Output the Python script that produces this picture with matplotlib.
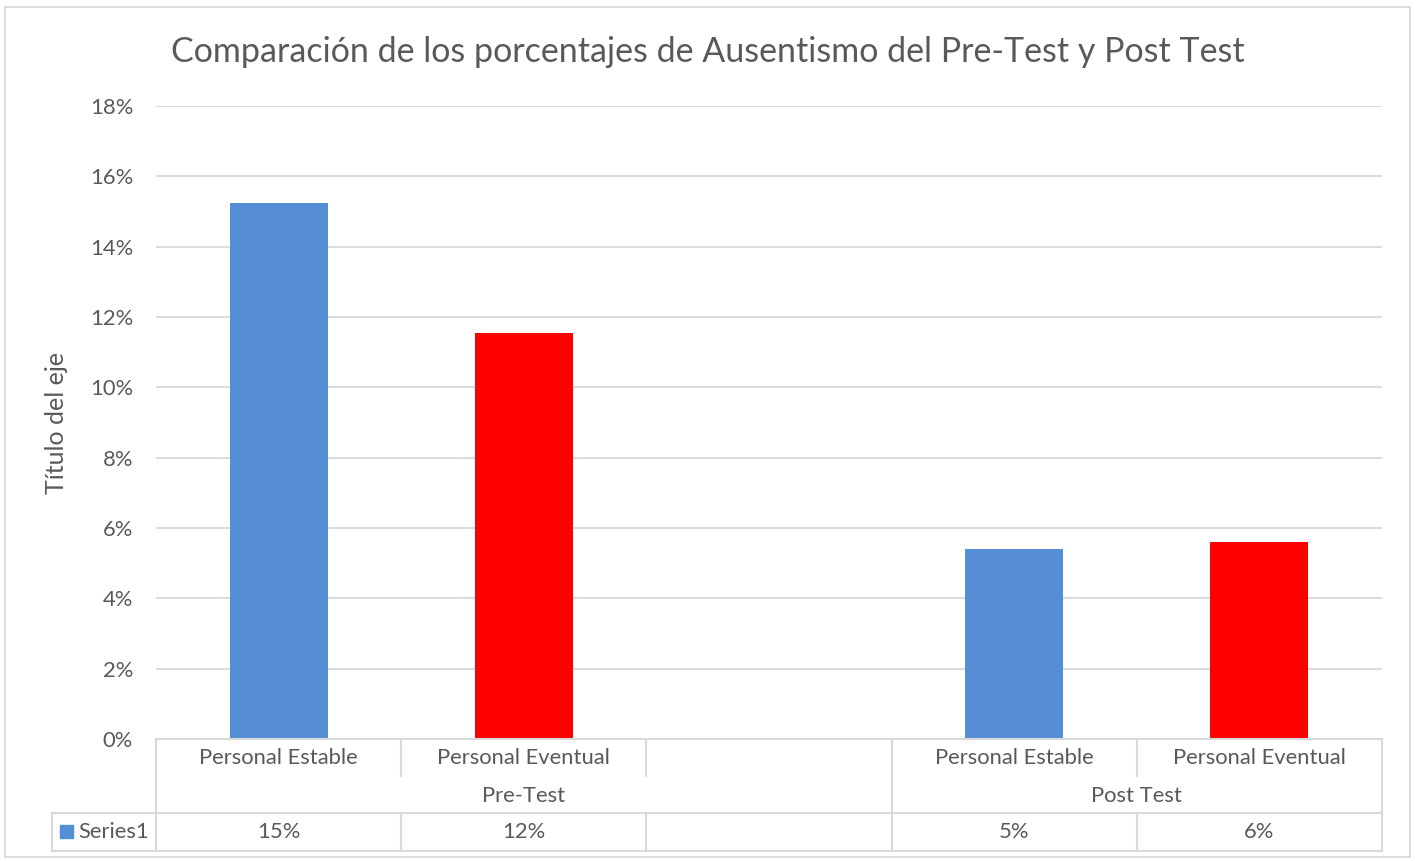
"""Recreate the Pre-Test / Post Test absenteeism comparison chart."""

import matplotlib

matplotlib.use("Agg")
import matplotlib.pyplot as plt
import numpy as np
from matplotlib.ticker import PercentFormatter

categories = ["Personal Estable", "Personal Eventual", "", "Personal Estable", "Personal Eventual"]
groups = ["Pre-Test", "Post Test"]
group_spans = [(0, 2), (3, 4)]
values = [0.1525, 0.1155, np.nan, 0.054, 0.056]
bar_colors = ["#558ED5", "#FF0000", "#558ED5", "#558ED5", "#FF0000"]
series_name = "Series1"
y_ticks = [0, 0.02, 0.04, 0.06, 0.08, 0.10, 0.12, 0.14, 0.16, 0.18]

TEXT = "#595959"
GRID = "#D9D9D9"
FONT = "Lato"
FS = 15.8

W, H = 1417, 861
fig = plt.figure(figsize=(W / 100, H / 100), dpi=100)
plt.rcParams["font.family"] = [FONT, "DejaVu Sans"]

# plot area in pixels
left, right, top, bottom = 156, 1382, 106, 739
ax = fig.add_axes([left / W, 1 - bottom / H, (right - left) / W, (bottom - top) / H])

x = np.arange(len(categories))
ax.bar(x, np.nan_to_num(values), width=0.4, color=bar_colors)
ax.set_xlim(-0.5, len(categories) - 0.5)
ax.set_ylim(0, 0.18)
ax.set_yticks(y_ticks)
ax.yaxis.set_major_formatter(PercentFormatter(1.0, decimals=0))
ax.tick_params(axis="y", length=0, pad=16.5, labelsize=FS, labelcolor=TEXT)
ax.tick_params(axis="x", length=0, labelbottom=False)
ax.grid(axis="y", color=GRID, linewidth=1.3)
ax.set_axisbelow(True)
for s in ax.spines.values():
    s.set_visible(False)

fig.text(57 / W, 1 - 423 / H, "Título del eje", rotation=90, ha="center", va="center",
         fontsize=18, color=TEXT)

fig.text(708 / W, 1 - 52 / H, "Comparación de los porcentajes de Ausentismo del Pre-Test y Post Test",
         ha="center", va="center", fontsize=24.5, color=TEXT)

# data table drawn below the plot area
ph = bottom - top


def ay(py):
    # pixel row -> axes y coordinate
    return (bottom - py) / ph


tr = ax.get_xaxis_transform()
row1, row2, row3, row4 = 739, 776, 813, 851
legend_left_px = 52
xleft = -0.5 - (left - legend_left_px) / ((right - left) / len(categories))
line_kw = dict(color=GRID, linewidth=1.5, transform=tr, clip_on=False)

ax.plot([-0.5, len(categories) - 0.5], [ay(row1)] * 2, **line_kw)
ax.plot([xleft, len(categories) - 0.5], [ay(row3)] * 2, **line_kw)
ax.plot([xleft, len(categories) - 0.5], [ay(row4)] * 2, **line_kw)
ax.plot([xleft, xleft], [ay(row3), ay(row4)], **line_kw)

edges = np.arange(len(categories) + 1) - 0.5
group_edges = {-0.5} | {e + 0.5 for _, e in group_spans}
for e in edges:
    if e in group_edges:
        ax.plot([e, e], [ay(row1), ay(row4)], **line_kw)
    else:
        ax.plot([e, e], [ay(row1 + 2), ay(row2)], **line_kw)
        ax.plot([e, e], [ay(row3), ay(row4)], **line_kw)

cell_kw = dict(transform=tr, ha="center", va="center", fontsize=FS, color=TEXT, clip_on=False)
for i, name in enumerate(categories):
    ax.text(i, ay((row1 + row2) / 2 + 1), name, **cell_kw)
    if not np.isnan(values[i]):
        ax.text(i, ay((row3 + row4) / 2), f"{values[i]:.0%}", **cell_kw)
for g, (a, b) in zip(groups, group_spans):
    ax.text((a + b) / 2, ay((row2 + row3) / 2 + 1), g, **cell_kw)

# legend key in the first column
fig.patches.append(plt.Rectangle((60 / W, 1 - 838 / H), 13 / W, 13 / H,
                                 transform=fig.transFigure, color="#558ED5"))
fig.text(78 / W, 1 - 832 / H, series_name, ha="left", va="center", fontsize=FS, color=TEXT)

# chart area border
fig.patches.append(plt.Rectangle((5 / W, 1 - 857 / H), 1405 / W, 850 / H, transform=fig.transFigure,
                                 fill=False, edgecolor=GRID, linewidth=1.3))

fig.savefig("out.png", dpi=100)
